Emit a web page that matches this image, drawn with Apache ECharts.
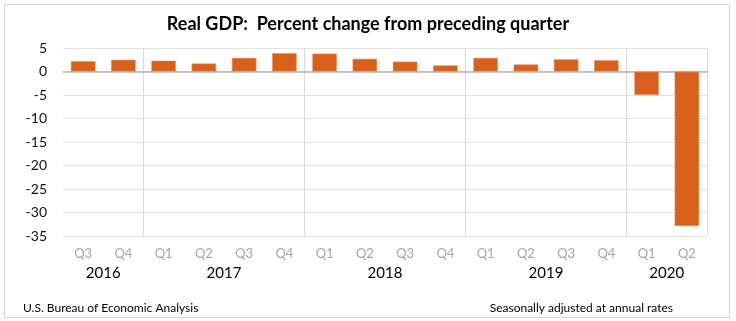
<!DOCTYPE html>
<html><head><meta charset="utf-8">
<script src="https://cdn.jsdelivr.net/npm/echarts@6/dist/echarts.min.js"></script>
<style>html,body{margin:0;padding:0;background:#fff}#c{width:736px;height:321px}</style>
</head><body><div id="c"></div>
<script>
const quarters = ['Q3','Q4','Q1','Q2','Q3','Q4','Q1','Q2','Q3','Q4','Q1','Q2','Q3','Q4','Q1','Q2'];
const years = ['2016','2017','2018','2019','2020'];
const yearCenters = [1, 4, 8, 12, 15];
const yearStarts = [2, 6, 10, 14];
const gdpChange = [2.2, 2.5, 2.3, 1.7, 2.9, 3.9, 3.8, 2.7, 2.1, 1.3, 2.9, 1.5, 2.6, 2.4, -5.0, -32.9];
const FONT = 'Lato';

const chart = echarts.init(document.getElementById('c'), null, {renderer: 'canvas'});
chart.setOption({
  animation: false,
  backgroundColor: '#fff',
  textStyle: {fontFamily: FONT},
  title: [
    {text: 'Real GDP:  Percent change from preceding quarter', left: 'center', top: 10,
     textStyle: {fontFamily: FONT, fontSize: 18, fontWeight: 'bold', color: '#000'}},
    {text: 'U.S. Bureau of Economic Analysis', left: 18, top: 297,
     textStyle: {fontFamily: FONT, fontSize: 12, fontWeight: 'normal', color: '#000'}},
    {text: 'Seasonally adjusted at annual rates', right: 58, top: 297,
     textStyle: {fontFamily: FONT, fontSize: 12, fontWeight: 'normal', color: '#000'}}
  ],
  graphic: [{type: 'rect', shape: {x: 4.5, y: 4.5, width: 725, height: 313},
    style: {fill: 'none', stroke: '#d4d4d4', lineWidth: 1}, silent: true}],
  grid: {left: 63, right: 29, top: 48, bottom: 85},
  xAxis: [
    {type: 'category', data: quarters, boundaryGap: true,
     axisLine: {show: false, onZero: false}, axisTick: {show: false},
     axisLabel: {color: '#a6a6a6', fontSize: 13, margin: 11, fontFamily: FONT},
     splitLine: {show: true, interval: function (i) { return yearStarts.indexOf(i) >= 0; },
       lineStyle: {color: '#d9d9d9', width: 1}}},
    {type: 'value', min: 0, max: 16, interval: 1, position: 'bottom', offset: 22,
     axisLine: {show: false, onZero: false}, axisTick: {show: false}, splitLine: {show: false},
     axisLabel: {color: '#000', fontSize: 15, margin: 8, fontFamily: FONT, showMinLabel: true, showMaxLabel: true,
       formatter: function (v) { const k = yearCenters.indexOf(v); return k >= 0 ? years[k] : ''; }}},
    {type: 'category', data: quarters, boundaryGap: true,
     axisLine: {show: true, onZero: true, lineStyle: {color: '#b5b5b5', width: 1.5}},
     axisTick: {show: false}, axisLabel: {show: false}, splitLine: {show: false}}
  ],
  yAxis: {type: 'value', min: -35, max: 5, interval: 5,
    axisLine: {show: false}, axisTick: {show: false},
    axisLabel: {color: '#111', fontSize: 14, margin: 16, fontFamily: FONT},
    splitLine: {lineStyle: {color: '#e3e3e3', width: 1}}},
  series: [{type: 'bar', xAxisIndex: 0, data: gdpChange, barCategoryGap: '39%',
    itemStyle: {color: '#D9601A', borderColor: '#E8926A', borderWidth: 0.6}}]
});
</script></body></html>
